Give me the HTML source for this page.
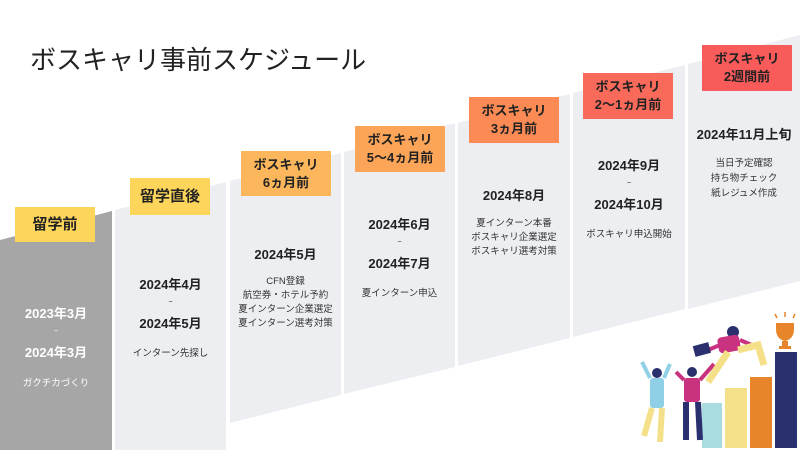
<!DOCTYPE html>
<html><head><meta charset="utf-8"><style>
body{margin:0;width:800px;height:450px;background:#fff;overflow:hidden;position:relative;font-family:"Liberation Sans","Noto Sans CJK JP",sans-serif;color:#222}
svg{position:absolute;left:0;top:0}
.t{position:absolute;text-align:center;white-space:nowrap}
.lb{position:absolute;display:flex;align-items:center;justify-content:center;text-align:center;font-weight:bold;font-size:13px;line-height:18px;color:#222}
.d{font-weight:bold;font-size:13px}
.s{font-size:9.5px;line-height:14px;color:#333}
.w{color:#fff}
.tl{font-size:7px;line-height:20px}
</style></head><body>
<svg width="800" height="450" viewBox="0 0 800 450">
<polygon points="0,240 112,211 112,450 0,450" fill="#a6a6a6"/>
<polygon points="115,210 226,182 226,450 115,450" fill="#eceef1"/>
<polygon points="230,181 341,153 341,395 230,423" fill="#eceef1"/>
<polygon points="344,152 455,123 455,367 344,394" fill="#eceef1"/>
<polygon points="458,123 570,94 570,338 458,366" fill="#eceef1"/>
<polygon points="573,93 685,65 685,309 573,337" fill="#eceef1"/>
<polygon points="688,64 800,35 800,281 688,309" fill="#eceef1"/>
<rect x="702" y="403" width="20" height="45" fill="#a8dce0"/>
<rect x="725" y="388" width="22" height="60" fill="#f5e08a"/>
<rect x="750" y="377" width="22" height="71" fill="#e8842a"/>
<rect x="775" y="352" width="22" height="96" fill="#2a2f6e"/>
<path d="M776 323 h18 v6 q0 10 -9 12 q-9 -2 -9 -12z" fill="#e8842a"/>
<rect x="782" y="341" width="6" height="5" fill="#e8842a"/><rect x="779" y="346" width="12" height="3" fill="#e8842a"/>
<line x1="775" y1="314" x2="777" y2="318" stroke="#e8842a" stroke-width="1.5"/><line x1="785" y1="312" x2="785" y2="317" stroke="#e8842a" stroke-width="1.5"/><line x1="795" y1="314" x2="793" y2="318" stroke="#e8842a" stroke-width="1.5"/>
<circle cx="657" cy="373" r="5" fill="#2a2f6e"/>
<path d="M650 378 l-8 -16 M664 378 l6 -14" stroke="#8fd0e6" stroke-width="4"/>
<rect x="650" y="378" width="14" height="30" rx="3" fill="#8fd0e6"/>
<path d="M652 408 l-8 28 M662 408 l-2 34" stroke="#f5e08a" stroke-width="6"/>
<circle cx="692" cy="372" r="5" fill="#2a2f6e"/>
<path d="M684 380 l-8 -8 M700 380 l14 -16" stroke="#c8327e" stroke-width="4"/>
<rect x="684" y="378" width="16" height="24" rx="3" fill="#c8327e"/>
<path d="M686 402 l0 38 M698 402 l2 38" stroke="#2a2f6e" stroke-width="6"/>
<circle cx="733" cy="332" r="6" fill="#2a2f6e"/>
<path d="M720 345 l-12 5 M740 340 l14 6" stroke="#c8327e" stroke-width="4"/>
<rect x="718" y="336" width="22" height="16" rx="4" fill="#c8327e" transform="rotate(-10 729 344)"/>
<path d="M728 352 l-20 30 M738 350 l20 -5 l6 20" stroke="#f5e08a" stroke-width="7" fill="none"/>
<rect x="694" y="344" width="16" height="11" fill="#2a2f6e" transform="rotate(-15 702 350)"/>
</svg>
<div class="t" style="left:30px;top:40px;font-size:26px;color:#222">ボスキャリ事前スケジュール</div>

<div class="lb" style="left:15px;top:207px;width:80px;height:35px;background:#fdd55a;font-size:15px">留学前</div>
<div class="lb" style="left:130px;top:178px;width:80px;height:37px;background:#fdd55a;font-size:15px">留学直後</div>
<div class="lb" style="left:241px;top:151px;width:90px;height:45px;background:#fcb75c">ボスキャリ<br>6ヵ月前</div>
<div class="lb" style="left:355px;top:126px;width:90px;height:46px;background:#fca457">ボスキャリ<br>5〜4ヵ月前</div>
<div class="lb" style="left:469px;top:97px;width:90px;height:46px;background:#fb8a55">ボスキャリ<br>3ヵ月前</div>
<div class="lb" style="left:583px;top:73px;width:90px;height:46px;background:#fa6a5a">ボスキャリ<br>2〜1ヵ月前</div>
<div class="lb" style="left:702px;top:45px;width:90px;height:46px;background:#f95a5a">ボスキャリ<br>2週間前</div>

<div class="t w" style="left:0;width:112px;top:303px"><div class="d">2023年3月</div><div class="tl">~</div><div class="d">2024年3月</div><div style="font-size:9.5px;margin-top:14px">ガクチカづくり</div></div>
<div class="t" style="left:115px;width:111px;top:274px"><div class="d">2024年4月</div><div class="tl">~</div><div class="d">2024年5月</div><div class="s" style="margin-top:15px">インターン先探し</div></div>
<div class="t" style="left:230px;width:111px;top:244px"><div class="d">2024年5月</div><div class="s" style="margin-top:12px">CFN登録<br>航空券・ホテル予約<br>夏インターン企業選定<br>夏インターン選考対策</div></div>
<div class="t" style="left:344px;width:111px;top:214px"><div class="d">2024年6月</div><div class="tl">~</div><div class="d">2024年7月</div><div class="s" style="margin-top:15px">夏インターン申込</div></div>
<div class="t" style="left:458px;width:112px;top:185px"><div class="d">2024年8月</div><div class="s" style="margin-top:13px">夏インターン本番<br>ボスキャリ企業選定<br>ボスキャリ選考対策</div></div>
<div class="t" style="left:573px;width:112px;top:155px"><div class="d">2024年9月</div><div class="tl">~</div><div class="d">2024年10月</div><div class="s" style="margin-top:15px">ボスキャリ申込開始</div></div>
<div class="t" style="left:688px;width:112px;top:124px"><div class="d">2024年11月上旬</div><div class="s" style="margin-top:13px;line-height:15px">当日予定確認<br>持ち物チェック<br>紙レジュメ作成</div></div>
</body></html>
